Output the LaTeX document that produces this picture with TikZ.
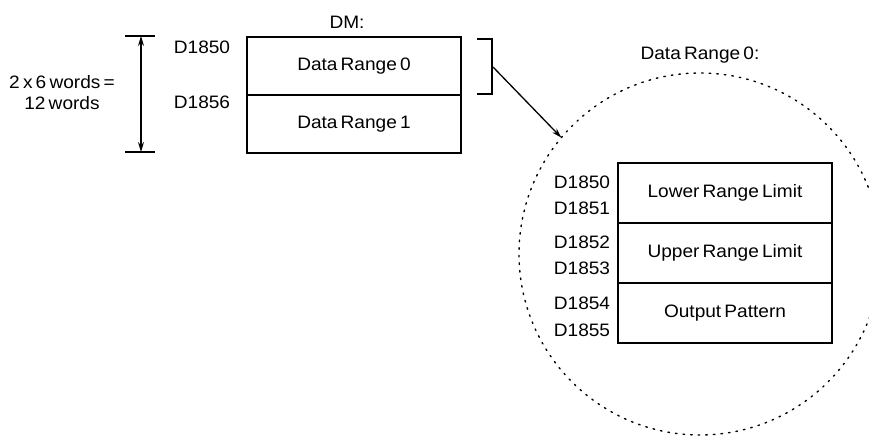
\documentclass[tikz,border=0pt]{standalone}
\usepackage{fontspec}
\setmainfont{Liberation Sans}[FakeStretch=1.06,WordSpace=0.6]
\usepackage{tikz}
\usetikzlibrary{arrows.meta,positioning}

\begin{document}
\begin{tikzpicture}[x=1pt,y=1pt,>={Stealth[length=10pt,width=6pt]},
  every node/.style={font=\fontsize{18}{21}\selectfont,inner sep=0pt,outer sep=0pt}]
\tikzstyle{row}=[rectangle,draw=black,line width=1.4pt,minimum width=214pt,minimum height=58pt]
\tikzstyle{field}=[row,minimum height=60pt]
\tikzstyle{addr}=[anchor=center]
\useasboundingbox (0,0) rectangle (869,443);
\clip (0,0) rectangle (869,443);
% DM area
\node at (347,421) (dmtitle) {DM:};
\node[row] at (354,377) (dr0) {Data Range 0};
\node[row,below=0pt of dr0] (dr1) {Data Range 1};
\node[addr] at (202,396) (a1850) {D1850};
\node[addr] at (202,341) (a1856) {D1856};
% size of the area
\coordinate (dimtop) at (141,407);
\coordinate (dimbot) at (141,291);
\draw[line width=1.4pt] ([xshift=-16pt]dimtop) -- ([xshift=14pt]dimtop);
\draw[line width=1.4pt] ([xshift=-16pt]dimbot) -- ([xshift=14pt]dimbot);
\draw[<->,line width=1.3pt] (dimtop) -- (dimbot);
\node[align=center] at (62,350) (size) {2 x 6 words =\\12 words};
% bracket and zoom arrow
\draw[line width=1.4pt] (477,404) -- (492,404) -- (492,349) -- (477,349);
\coordinate (brk) at (493,376);
\node[circle,draw=black,line width=1.4pt,line cap=round,dash pattern=on 1.6pt off 6pt,minimum size=362pt] at (700,189) (zoomc) {};
\draw[->,line width=1.3pt] (brk) -- (zoomc.140);
\node at (700,388) (zoomtitle) {Data Range 0:};
% Data Range 0 layout
\node[field] at (725,250) (lower) {Lower Range Limit};
\node[field,below=0pt of lower] (upper) {Upper Range Limit};
\node[field,below=0pt of upper] (outp) {Output Pattern};
\node[addr] at (582,261) (b1850) {D1850};
\node[addr] at (582,235) (b1851) {D1851};
\node[addr] at (582,201) (b1852) {D1852};
\node[addr] at (582,175) (b1853) {D1853};
\node[addr] at (582,140) (b1854) {D1854};
\node[addr] at (582,113) (b1855) {D1855};
\end{tikzpicture}
\end{document}
